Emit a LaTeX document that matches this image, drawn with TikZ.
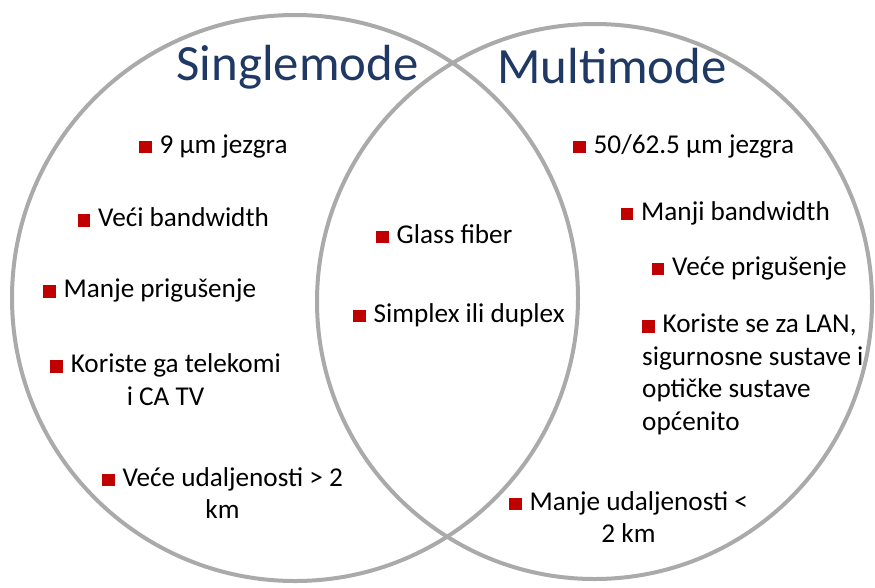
\documentclass[tikz,border=0pt]{standalone}
\usepackage{fontspec}
\setmainfont{Carlito}
\usepackage{tikz}

\definecolor{ringgray}{RGB}{170,170,170}
\definecolor{titleblue}{RGB}{31,56,100}
\definecolor{bulletred}{RGB}{192,0,0}
\newcommand{\bul}{\textcolor{bulletred}{\rule{12.5pt}{12.5pt}}\hspace{8pt}}

\begin{document}
\begin{tikzpicture}[x=1pt, y=-1pt,
    ring/.style={circle, draw=ringgray, line width=4pt, inner sep=0pt},
    title/.style={anchor=base, inner sep=0pt, text=titleblue, font=\fontsize{50.8}{60}\selectfont},
    item/.style={anchor=base west, inner sep=0pt, font=\fontsize{27.2}{32.5}\selectfont}]
    \useasboundingbox (0,0) rectangle (875,587);

    % Rings {single, multi}
    \node [ring, minimum size=566pt]    (single)    at (295,298)      {};
    \node [ring, minimum size=555pt]    (multi)     at (594.5,301.5)  {};

    % Titles
    \node [title]   (singletitle)   at (297.5,80.5)   {Singlemode};
    \node [title]   (multititle)    at (612,83)       {Multimode};

    % Singlemode items (multi-line ones sit on their last line)
    \node [item]    (s1)    at (139,153.3)    {\bul 9 µm jezgra};
    \node [item]    (s2)    at (77.5,226.7)   {\bul Veći bandwidth};
    \node [item]    (s3)    at (43,297.7)     {\bul Manje prigušenje};
    \node [item, anchor=base, align=center]   (s4)  at (165.5,405)    {\bul Koriste ga telekomi\\ i CA TV};
    \node [item, anchor=base, align=center]   (s5)  at (222.5,518.5)  {\bul Veće udaljenosti > 2\\ km};

    % Common items
    \node [item]    (c1)    at (376,243)      {\bul Glass fiber};
    \node [item]    (c2)    at (353,322)      {\bul Simplex ili duplex};

    % Multimode items
    \node [item]    (m1)    at (573,153.3)    {\bul 50/62.5 µm jezgra};
    \node [item]    (m2)    at (620.5,220)    {\bul Manji bandwidth};
    \node [item]    (m3)    at (651.5,275)    {\bul Veće prigušenje};
    \node [item, align=left]                  (m4)  at (642,430.2)    {\bul Koriste se za LAN,\\ sigurnosne sustave i\\ optičke sustave\\ općenito};
    \node [item, anchor=base, align=center]   (m5)  at (628.5,542.7)  {\bul Manje udaljenosti <\\ 2 km};

\end{tikzpicture}
\end{document}
